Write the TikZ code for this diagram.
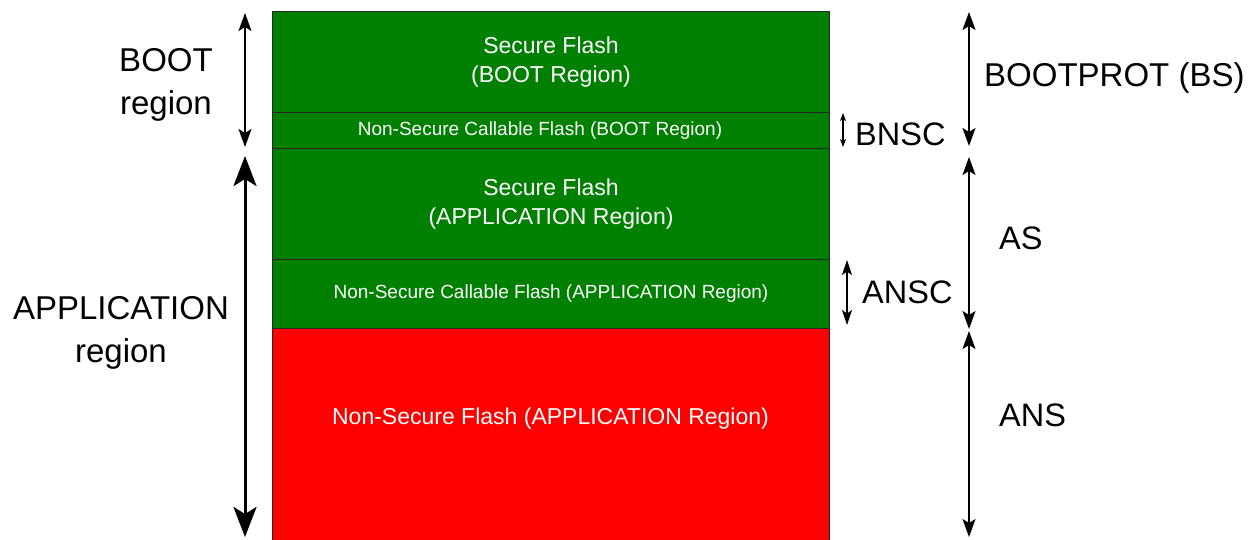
\documentclass[tikz,border=0pt]{standalone}
\usepackage{fontspec}
\setmainfont{Liberation Sans}
\usetikzlibrary{arrows.meta}
\definecolor{flashgreen}{RGB}{0,128,0}
\definecolor{flashred}{RGB}{255,0,0}

\begin{document}
\begin{tikzpicture}[x=1pt, y=-1pt,
block/.style={draw=black!85, line width=1pt, anchor=north west, inner sep=0, minimum width=557pt, text=white, align=center},
secure/.style={block, fill=flashgreen},
nonsecure/.style={block, fill=flashred},
medium/.style={font=\fontsize{23}{29}\selectfont},
small/.style={font=\fontsize{19}{23}\selectfont},
big/.style={font=\fontsize{32.5}{42}\selectfont, inner sep=0, align=center},
bigger/.style={big, font=\fontsize{33}{43}\selectfont},
span/.style={line width=1.5pt, {Stealth[length=18pt, width=13pt, inset=4pt]}-{Stealth[length=18pt, width=13pt, inset=4pt]}},
bigspan/.style={line width=3pt, {Stealth[length=30pt, width=23pt, inset=7pt]}-{Stealth[length=30pt, width=23pt, inset=7pt]}},
tinyspan/.style={line width=1.2pt, {Stealth[length=8pt, width=6pt, inset=2pt]}-{Stealth[length=8pt, width=6pt, inset=2pt]}},
midspan/.style={line width=1.5pt, {Stealth[length=15pt, width=10pt, inset=3.5pt]}-{Stealth[length=15pt, width=10pt, inset=3.5pt]}},
]
\useasboundingbox (0,0) rectangle (1259,539);

%%%%%%%%%%%%%%%%%%%%%%%% FLASH BLOCKS %%%%%%%%%%%%%%%%%%%%%%%%%%%
\node[secure, medium, minimum height=101pt] (BootS) at (272,11) {Secure Flash\\(BOOT Region)};
\node[secure, small, minimum height=36pt] (BootNSC) at (272,112) {Non-Secure Callable Flash (BOOT Region)\kern22pt};
\node[secure, medium, minimum height=111pt] (AppS) at (272,148) {Secure Flash\\(APPLICATION Region)};
\node[secure, small, minimum height=69pt] (AppNSC) at (272,259) {Non-Secure Callable Flash (APPLICATION Region)};
\node[nonsecure, minimum height=212pt] (AppNS) at (272,328) {};
\node[medium, text=white] (AppNSText) at (550.5,419) {Non-Secure Flash (APPLICATION Region)};

%%%%%%%%%%%%%%%%%%%%%%%% LEFT SIDE %%%%%%%%%%%%%%%%%%%%%%%%%%%
\coordinate (BootTop) at (245,13);
\coordinate (BootBot) at (245,147);
\coordinate (AppTop) at (245,156);
\coordinate (AppBot) at (245,537);
\draw[span] (BootTop) -- (BootBot);
\draw[bigspan] (AppTop) -- (AppBot);
\node[bigger] (BootLabel) at (166,85) {BOOT\\region};
\node[bigger] (AppLabel) at (121,333) {APPLICATION\\region};

%%%%%%%%%%%%%%%%%%%%%%%% RIGHT SIDE %%%%%%%%%%%%%%%%%%%%%%%%%%%
\coordinate (BSTop) at (969,12);
\coordinate (BSBot) at (969,146);
\coordinate (ASTop) at (969,157);
\coordinate (ASBot) at (969,329);
\coordinate (ANSTop) at (969,331);
\coordinate (ANSBot) at (969,537);
\coordinate (BNSCTop) at (843,113);
\coordinate (BNSCBot) at (843,147);
\coordinate (ANSCTop) at (847,260);
\coordinate (ANSCBot) at (847,325);
\draw[span] (BSTop) -- (BSBot);
\draw[span] (ASTop) -- (ASBot);
\draw[span] (ANSTop) -- (ANSBot);
\draw[tinyspan] (BNSCTop) -- (BNSCBot);
\draw[midspan] (ANSCTop) -- (ANSCBot);

\node[bigger, anchor=base west] (BSLabel) at (984,86) {BOOTPROT (BS)};
\node[big, anchor=base west] (BNSCLabel) at (855,145) {BNSC};
\node[big, anchor=base west] (ASLabel) at (999,249) {AS};
\node[big, anchor=base west] (ANSCLabel) at (862,303) {ANSC};
\node[big, anchor=base west] (ANSLabel) at (999,426) {ANS};
\end{tikzpicture}
\end{document}
